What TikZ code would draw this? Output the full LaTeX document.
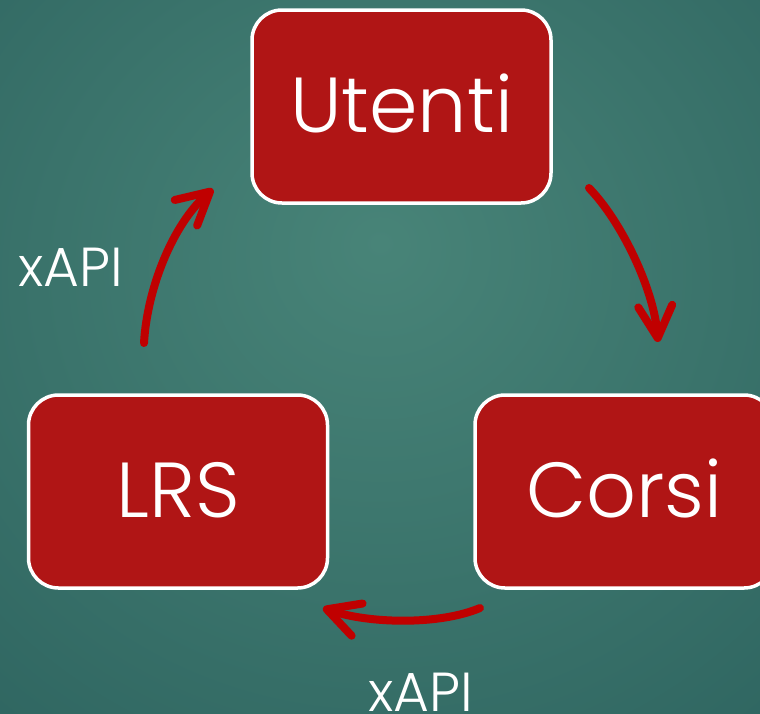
\documentclass[tikz,border=0pt]{standalone}
\usepackage{fontspec}
\setmainfont{Poppins}[UprightFont={* Light}]
\usetikzlibrary{arrows.meta}
\definecolor{bgin}{RGB}{72,132,120}
\definecolor{bgout}{RGB}{44,98,94}
\definecolor{boxred}{RGB}{176,21,21}
\definecolor{arrred}{RGB}{192,0,0}
\pgfdeclareradialshading{bgshade}{\pgfpoint{0bp}{8bp}}{color(0bp)=(bgin); color(45bp)=(bgout); color(80bp)=(bgout)}
\tikzset{
  box/.style={draw=white, line width=3.5pt, fill=boxred, rounded corners=30pt,
    minimum width=299pt, minimum height=193pt, text=white, inner sep=0pt,
    font=\fontsize{78}{78}\selectfont, text height=52pt, text depth=0pt},
  flow/.style={draw=arrred, line width=8pt, line cap=round,
    -{Straight Barb[length=32pt,width=34pt,round]}},
  lbl/.style={text=white, inner sep=0pt, anchor=base west, font=\fontsize{55}{55}\selectfont}
}
\begin{document}
\begin{tikzpicture}[x=1pt,y=-1pt]
\useasboundingbox (0,0) rectangle (760,713);
\clip (0,0) rectangle (760,713);
\shade[shading=bgshade] (0,0) rectangle (760,713);
\node[box] (utenti) at (401.5,106.5) {Utenti};
\node[box] (corsi) at (624.5,491.5) {Corsi};
\node[box] (lrs) at (178,491.5) {LRS};
\coordinate (a1s) at (589,188);
\coordinate (a1e) at (658,342);
\coordinate (a2s) at (480,608);
\coordinate (a2e) at (323,608);
\coordinate (a3s) at (144,343);
\coordinate (a3e) at (213,189);
\draw[flow] (a1s) .. controls (622,222) and (654,290) .. (a1e);
\draw[flow] (a2s) .. controls (440,625) and (370,624) .. (a2e);
\draw[flow] (a3s) .. controls (147,290) and (172,225) .. (a3e);
\node[lbl] (x1) at (18,286) {xAPI};
\node[lbl] (x2) at (368,711) {xAPI};
\end{tikzpicture}
\end{document}
